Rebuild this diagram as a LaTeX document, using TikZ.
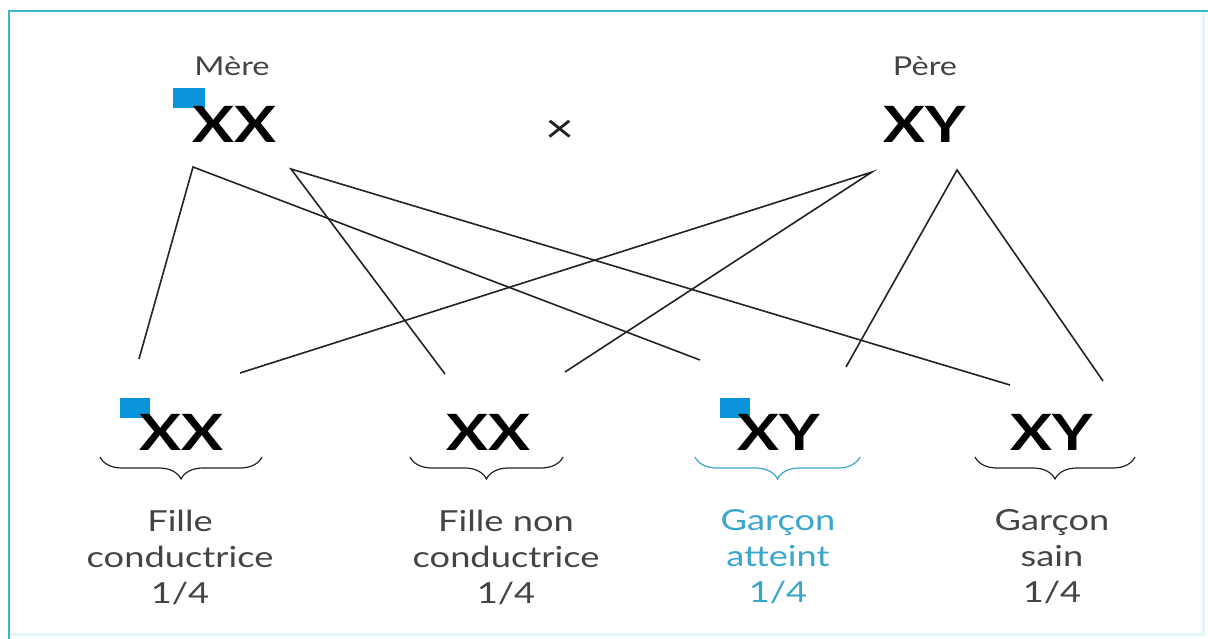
\documentclass[tikz,border=0pt]{standalone}
\usepackage{fontspec}
\setmainfont[FakeStretch=1.25]{Lato}
\usetikzlibrary{decorations.pathreplacing}
\definecolor{frameblue}{HTML}{3AB3CE}
\definecolor{faintcyan}{HTML}{E3F6FA}
\definecolor{sqblue}{HTML}{0A95DA}
\definecolor{txtblue}{HTML}{3AA6CC}
\definecolor{txtgray}{HTML}{444444}
\definecolor{linegray}{HTML}{222222}
\tikzset{
  geno/.style={font=\fontsize{50}{50}\selectfont\bfseries, text=black, inner sep=0pt},
  parent/.style={font=\fontsize{26}{26}\selectfont, text=txtgray, inner sep=0pt},
  result/.style={font=\fontsize{29}{36}\selectfont, text=txtgray, align=center, inner sep=0pt},
  cross/.style={draw=linegray, line width=1.6pt},
  carrier/.style={fill=sqblue},
  curly/.style={decorate, decoration={brace, amplitude=22pt, aspect=0.5}, line width=1.2pt},
}
\begin{document}
\begin{tikzpicture}[x=1pt,y=-1pt]
\useasboundingbox (0,0) rectangle (1208,639);
% frame
\draw[faintcyan, line width=3pt] (1203,11) -- (1203,634) -- (9,634);
\draw[frameblue, line width=2.5pt] (9,639) -- (9,11) -- (1208,11);

% parents
\node[parent] (mere) at (232,66) {Mère};
\node[parent] (pere) at (925,66) {Père};
\fill[carrier] (173,88) rectangle (205,108);
\node[geno] (mxx) at (234,124) {XX};
\node[font=\fontsize{40}{40}\selectfont, text=linegray, inner sep=0pt] (croix) at (560,131) {×};
\node[geno] (pxy) at (925,124) {XY};

% offspring
\fill[carrier] (120,398) rectangle (150,418);
\node[geno] (c1) at (181,432) {XX};
\node[geno] (c2) at (488,432) {XX};
\fill[carrier] (720,398) rectangle (750,418);
\node[geno] (c3) at (779,432) {XY};
\node[geno] (c4) at (1052,432) {XY};

% gamete points
\coordinate (m1) at (193,167);
\coordinate (m2) at (291,169);
\coordinate (p1) at (872,172);
\coordinate (p2) at (957,170);
% line ends above the children
\coordinate (e1a) at (139,359);
\coordinate (e1b) at (240,373);
\coordinate (e2a) at (445,374);
\coordinate (e2b) at (565,372);
\coordinate (e3a) at (700,360);
\coordinate (e3b) at (846,367);
\coordinate (e4a) at (1010,385);
\coordinate (e4b) at (1103,381);

\draw[cross] (e1a) -- (m1) -- (e3a);
\draw[cross] (e2a) -- (m2) -- (e4a);
\draw[cross] (e1b) -- (p1) -- (e2b);
\draw[cross] (e3b) -- (p2) -- (e4b);

% braces
\draw[curly, linegray, decoration={mirror}] (100,457) -- (262,457);
\draw[curly, linegray, decoration={mirror}] (410,457) -- (563,457);
\draw[curly, txtblue, decoration={mirror}] (695,457) -- (860,457);
\draw[curly, linegray, decoration={mirror}] (975,457) -- (1135,457);

% labels
\node[result] (l1) at (180,557) {Fille\\conductrice\\1/4};
\node[result] (l2) at (506,557) {Fille non\\conductrice\\1/4};
\node[result, text=txtblue] (l3) at (778,557) {Garçon\\atteint\\1/4};
\node[result] (l4) at (1052,557) {Garçon\\sain\\1/4};
\end{tikzpicture}
\end{document}
